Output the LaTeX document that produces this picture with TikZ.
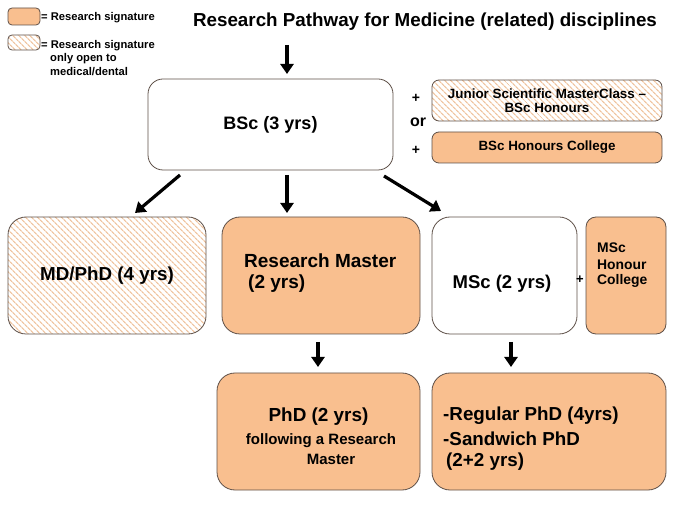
\documentclass[tikz,border=0pt]{standalone}
\usepackage{fontspec}
\setmainfont{Liberation Sans}
\usetikzlibrary{patterns.meta,arrows.meta}
\definecolor{peach}{HTML}{F9BF8F}
\definecolor{edgec}{HTML}{5E5048}
\definecolor{hatchc}{HTML}{EFC4A0}
\begin{document}
\begin{tikzpicture}[x=1pt,y=-1pt,
  box/.style={draw=edgec,line width=0.8pt,inner sep=0pt,align=center,font=\fontsize{18.8}{21}\selectfont\bfseries},
  filled/.style={box,fill=peach},
  hatched/.style={box,pattern={Lines[angle=-45,distance=4pt,line width=1.3pt]},pattern color=hatchc},
  plain/.style={box,fill=white},
  arr/.style={line width=3.2pt,-{Triangle[length=10pt,width=13pt]}},
  txt/.style={inner sep=0pt,font=\fontsize{#1}{#1}\selectfont\bfseries},
  txt/.default=12
]
\useasboundingbox (0,0) rectangle (680,510);
% legend
\node[filled,rounded corners=4pt,minimum width=32pt,minimum height=17pt] (leg1) at (24,16.5) {};
\node[hatched,rounded corners=4pt,minimum width=32pt,minimum height=15pt] (leg2) at (24,42.5) {};
\node[txt=11.2,anchor=west] (leg1t) at (41,18) {= Research signature};
\node[txt=11.2,anchor=west] (leg2t) at (41,46) {= Research signature};
\node[txt=11.2,anchor=west] (leg2u) at (50,59) {only open to};
\node[txt=11.2,anchor=west] (leg2v) at (50,72) {medical/dental};
% title
\node[txt=18.8] (title) at (425,22) {Research Pathway for Medicine (related) disciplines};
% boxes
\node[plain,rounded corners=15pt,minimum width=245pt,minimum height=91pt,font=\fontsize{18}{21}\selectfont\bfseries] (bsc) at (270.5,124.5) {BSc (3 yrs)};
\node[hatched,rounded corners=7pt,minimum width=230pt,minimum height=41pt,font=\fontsize{13.4}{14}\selectfont\bfseries] (jsm) at (547,100.5) {Junior Scientific MasterClass --\\BSc Honours};
\node[filled,rounded corners=7pt,minimum width=230pt,minimum height=31pt,font=\fontsize{13.4}{14}\selectfont\bfseries] (bhc) at (547,147.5) {BSc Honours College};
\node[txt=14] (plus1) at (416,98) {+};
\node[txt=16] (or) at (418,122) {or};
\node[txt=14] (plus2) at (416,150) {+};
\node[hatched,rounded corners=18pt,minimum width=198pt,minimum height=117pt] (md) at (107,275.5) {MD/PhD (4 yrs)};
\node[filled,rounded corners=18pt,minimum width=198pt,minimum height=117pt] (rm) at (321,275.5) {};
\node[txt=19,anchor=west] (rmt1) at (244,261) {Research Master};
\node[txt=19,anchor=west] (rmt2) at (248,284) {(2 yrs)};
\node[plain,rounded corners=18pt,minimum width=145pt,minimum height=117pt] (msc) at (504.5,275.5) {};
\node[txt=18.5] (msct) at (502,284) {MSc (2 yrs)};
\node[txt=13] (plus3) at (580,280) {+};
\node[filled,rounded corners=10pt,minimum width=80pt,minimum height=117pt] (mhc) at (626,275.5) {};
\node[txt=13.9,anchor=west] (mhc1) at (597,248) {MSc};
\node[txt=13.9,anchor=west] (mhc2) at (597,264.5) {Honour};
\node[txt=13.9,anchor=west] (mhc3) at (597,281) {College};
\node[filled,rounded corners=18pt,minimum width=203pt,minimum height=117pt] (phd) at (318.5,431.5) {};
\node[txt=18.9] (phd1) at (318.5,417) {PhD (2 yrs)};
\node[txt=15] (phd2) at (321,441) {following a Research};
\node[txt=15] (phd3) at (331,459) {Master};
\node[filled,rounded corners=18pt,minimum width=234pt,minimum height=117pt] (reg) at (549,431.5) {};
\node[txt=18.8,anchor=west] (reg1) at (443,416) {-Regular PhD (4yrs)};
\node[txt=18.8,anchor=west] (reg2) at (443,439) {-Sandwich PhD};
\node[txt=18.8,anchor=west] (reg3) at (446,462) {(2+2 yrs)};
% arrow end points
\coordinate (a0s) at (287,45);  \coordinate (a0e) at (287,74);
\coordinate (a1s) at (180,175); \coordinate (a1e) at (135,213);
\coordinate (a2s) at (287,175); \coordinate (a2e) at (287,213);
\coordinate (a3s) at (384,176); \coordinate (a3e) at (441,211);
\coordinate (a4s) at (318,342); \coordinate (a4e) at (318,367);
\coordinate (a5s) at (511,342); \coordinate (a5e) at (511,367);
\draw[arr] (a0s) -- (a0e);
\draw[arr] (a1s) -- (a1e);
\draw[arr] (a2s) -- (a2e);
\draw[arr] (a3s) -- (a3e);
\draw[arr] (a4s) -- (a4e);
\draw[arr] (a5s) -- (a5e);
\end{tikzpicture}
\end{document}
